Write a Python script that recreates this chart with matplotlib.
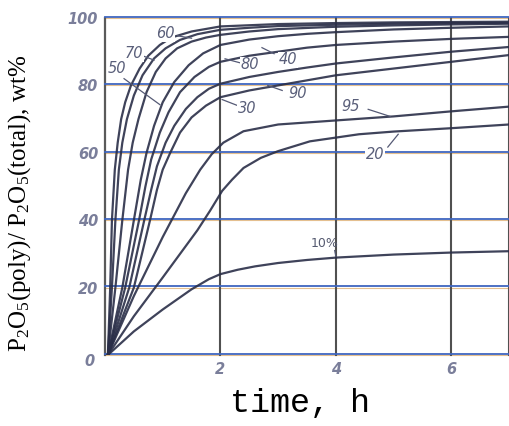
import matplotlib
matplotlib.use("Agg")
import matplotlib.pyplot as plt

plt.rcParams["mathtext.fontset"] = "custom"
plt.rcParams["mathtext.rm"] = "Liberation Serif"
plt.rcParams["mathtext.it"] = "Liberation Serif:italic"

# curves: time (h) and P2O5(poly)/P2O5(total) (wt%)
c1_t = [0.05, 0.09, 0.12, 0.17, 0.22, 0.28, 0.35, 0.45, 0.6, 0.75, 0.95, 1.15, 1.5, 2, 3, 4, 5, 6, 7]
c1_v = [0, 20, 40, 55, 63, 70, 75, 80, 85, 88.8, 92, 94.2, 96, 97.5, 98.2, 98.5, 98.7, 98.8, 98.9]
c2_t = [0.05, 0.12, 0.18, 0.24, 0.3, 0.38, 0.5, 0.65, 0.85, 1.05, 1.3, 1.6, 2, 2.5, 3, 4, 5, 6, 7]
c2_v = [0, 20, 40, 55, 63, 70, 77, 83, 88, 91, 93.5, 95.2, 96.5, 97.1, 97.6, 98, 98.3, 98.5, 98.6]
c3_t = [0.05, 0.18, 0.3, 0.4, 0.48, 0.58, 0.72, 0.88, 1.05, 1.25, 1.5, 1.75, 2, 2.5, 3, 4, 5, 6, 7]
c3_v = [0, 20, 40, 55, 63, 70, 78, 84, 88, 91, 93, 94.2, 95, 96, 96.7, 97.4, 97.8, 98.1, 98.3]
c4_t = [0.05, 0.3, 0.5, 0.62, 0.72, 0.85, 1.0, 1.2, 1.45, 1.7, 2, 2.5, 3, 3.5, 4, 5, 6, 7]
c4_v = [0, 20, 40, 52, 60, 68, 75, 81, 86, 89.5, 92, 93.6, 94.6, 95.3, 95.8, 96.6, 97.1, 97.5]
c5_t = [0.05, 0.35, 0.59, 0.7, 0.8, 0.95, 1.1, 1.3, 1.55, 1.8, 2, 2.5, 3, 3.5, 4, 5, 6, 7]
c5_v = [0, 20, 40, 50, 58, 66, 72, 78, 82.5, 85.5, 87, 88.8, 90, 91.2, 92, 93, 93.8, 94.4]
c6_t = [0.05, 0.42, 0.68, 0.8, 0.9, 1.05, 1.2, 1.4, 1.6, 1.8, 2, 2.5, 3, 3.5, 4, 5, 6, 7]
c6_v = [0, 20, 40, 49, 56, 63, 68, 73, 76.5, 79, 80.5, 82.5, 84, 85.3, 86.5, 88.3, 90, 91.4]
c7_t = [0.05, 0.5, 0.78, 0.9, 1.0, 1.13, 1.3, 1.5, 1.75, 2, 2.5, 3, 3.5, 4, 5, 6, 7]
c7_v = [0, 20, 40, 49, 55, 60, 66, 70.5, 74, 76.5, 78.5, 80, 81.5, 83, 85, 87, 89]
c95_t = [0.05, 0.5, 1.0, 1.4, 1.65, 1.85, 2.05, 2.4, 3, 3.5, 4, 4.5, 5, 6, 7]
c95_v = [0, 17.5, 35, 48, 55, 59.6, 63, 66.4, 68.4, 69, 69.6, 70.2, 70.8, 72.3, 73.7]
c20_t = [0.05, 0.5, 1.0, 1.6, 1.82, 2.03, 2.2, 2.4, 2.7, 3, 3.55, 4.4, 5, 6, 7]
c20_v = [0, 11.5, 23, 37, 42.8, 48.7, 52, 55.5, 58.5, 60.5, 63.4, 65.5, 66.3, 67.3, 68.4]
c10_t = [0.05, 0.5, 1.0, 1.5, 1.8, 2.0, 2.3, 2.6, 3, 3.5, 4, 5, 6, 7]
c10_v = [0, 7, 13.5, 19.5, 22.5, 24, 25.3, 26.3, 27.3, 28.2, 28.9, 29.8, 30.4, 30.8]

curves = [(c1_t, c1_v), (c2_t, c2_v), (c3_t, c3_v), (c4_t, c4_v), (c5_t, c5_v),
          (c6_t, c6_v), (c7_t, c7_v), (c95_t, c95_v), (c20_t, c20_v), (c10_t, c10_v)]

# curve labels: text, text position, leader start, leader end
labels = ["50", "70", "60", "80", "40", "30", "90", "95", "20", "10%"]
label_pos = [(0.21, 85), (0.5, 89.4), (1.04, 95.3), (2.51, 86.1), (3.17, 87.6),
             (2.46, 73.2), (3.33, 77.6), (4.25, 73.7), (4.68, 59.6), (3.8, 33)]
leader_from = [(0.33, 82), (0.68, 88.6), (1.26, 94.7), (2.34, 86.7), (2.93, 89.4),
               (2.3, 74), (3.07, 78.5), (4.56, 72.9), (4.9, 61.7), (3.98, 31)]
leader_to = [(0.95, 74.3), (0.85, 87.5), (1.5, 94.0), (2.08, 87.9), (2.72, 91.2),
             (2.03, 75.8), (2.82, 80), (4.94, 70.8), (5.08, 65.5), (4.0, 29.3)]

yticks = [20, 40, 60, 80, 100]
xticks = [2, 4, 6]

fig = plt.figure(figsize=(5.09, 4.26), dpi=100)
ax = fig.add_axes([105 / 509, 71 / 426, 404 / 509, 337 / 426])
ax.set_xlim(0, 7)
ax.set_ylim(0, 100)
for s in ax.spines.values():
    s.set_visible(False)

tick_color = "#7a7e9a"
blue = "#3f66bf"

for y in [0] + yticks:
    ax.axhline(y, color="#d9a560", lw=0.8, alpha=0.7, zorder=1, clip_on=False)
    ax.axhline(y + 0.35, color=blue, lw=1.3, zorder=1.5, clip_on=False)
for x in xticks + [7]:
    ax.axvline(x, color="#505050", lw=1.5, zorder=1, clip_on=False)
ax.axvline(0, color="#5a5a5a", lw=1.6, zorder=1, clip_on=False)

for t, v in curves:
    ax.plot(t, v, color="#2a2e48", lw=1.6, alpha=0.9, zorder=3,
            solid_joinstyle="round")

for lab, pos, a, b in zip(labels, label_pos, leader_from, leader_to):
    if lab == "10%":
        ax.text(pos[0], pos[1], lab, fontsize=9, color="#555a70",
                ha="center", va="center", zorder=5)
    else:
        ax.text(pos[0], pos[1], lab, fontsize=10.5, style="italic",
                color="#5a5f7a", ha="center", va="center", zorder=5,
                bbox=dict(facecolor="white", edgecolor="none", pad=0.3))
    ax.plot([a[0], b[0]], [a[1], b[1]], color="#555a75", lw=0.9, zorder=4)

ax.set_xticks(xticks)
ax.set_xticklabels([str(x) for x in xticks], fontsize=10.5, style="italic",
                   fontweight="bold", color=tick_color)
ax.set_yticks(yticks)
ax.set_yticklabels([str(y) for y in yticks], fontsize=10.5, style="italic",
                   fontweight="bold", color=tick_color)
ax.tick_params(length=0, pad=5)
ax.text(-0.27, -2, "0", fontsize=10.5, style="italic", fontweight="bold",
        color=tick_color, ha="center", va="center", clip_on=False)

fig.text(20 / 509, 1 - 203 / 426, r"P$_2$O$_5$(poly)/ P$_2$O$_5$(total), wt%",
         rotation=90, ha="center", va="center", fontsize=18,
         family="Liberation Serif")
fig.text(300 / 509, 1 - 403 / 426, "time, h", ha="center", va="center",
         fontsize=24, family="Liberation Mono")

fig.savefig("out.png", dpi=100)
